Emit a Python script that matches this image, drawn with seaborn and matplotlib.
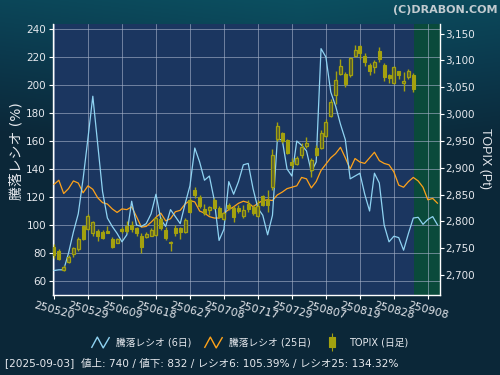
import numpy as np
import pandas as pd
import matplotlib
matplotlib.use("Agg")
import matplotlib.pyplot as plt
from matplotlib.path import Path
from matplotlib.lines import Line2D
from matplotlib.colors import LinearSegmentedColormap
import seaborn as sns

# x axis (trading-day index) tick labels
tick_idx = [0, 7, 14, 21, 28, 35, 42, 49, 56, 63, 70, 77]
tick_labels = ["250520", "250529", "250609", "250618", "250627", "250708",
               "250717", "250729", "250807", "250819", "250828", "250908"]

# 騰落レシオ (6日)
ratio6 = [67.5, 68, 68, 80, 95, 108, 133, 162, 192, 158,
          124, 105, 99, 94, 88, 93, 117, 100, 99, 101,
          108, 122, 104, 99, 111, 106, 101, 115, 128, 155,
          145, 132, 135, 118, 89, 97, 131, 122, 131, 143,
          144, 126, 112, 107, 93, 107, 161, 161, 140, 135,
          160, 157, 153, 138, 145, 226, 220, 195, 185, 172,
          161, 133, 135, 137, 122, 110, 137, 130, 100, 88,
          92, 91, 82, 94, 105, 105.5, 100.5, 104, 106, 100]

# 騰落レシオ (25日)
ratio25 = [129, 132, 122.5, 126, 131.5, 130, 123, 128, 125.5, 119.5,
           116, 115, 111.5, 109, 111.5, 111, 113, 106, 98.5, 99,
           102, 105.5, 108.5, 103, 104.5, 109.5, 110.5, 115, 117.5, 116.5,
           110, 108.5, 106, 105, 105, 108.5, 111, 113, 115.5, 117,
           116, 113, 115.5, 117.5, 118, 117.5, 121.5, 123.5, 126, 127,
           128, 134, 133, 126.5, 131, 139, 143.5, 148, 151, 155.5,
           148, 140, 147.5, 145, 144, 148, 152, 146, 144, 143,
           138, 128.5, 127, 131, 134, 131.5, 127, 118, 119, 115.5]

# TOPIX daily candles
topix_open = [2753, 2745, 2709, 2725, 2739, 2748, 2791, 2786, 2778, 2782,
              2781, 2782, 2767, 2760, 2785, 2791, 2793, 2787, 2773, 2770,
              2773, 2775, 2804, 2784, 2762, 2787, 2787, 2781, 2840, 2859,
              2846, 2823, 2821, 2840, 2825, 2804, 2831, 2825, 2825, 2810,
              2833, 2826, 2810, 2847, 2840, 2864, 2953, 2964, 2952, 2911,
              2907, 2924, 2941, 2896, 2937, 2937, 2960, 2997, 3035, 3075,
              3075, 3072, 3108, 3127, 3109, 3092, 3088, 3117, 3092, 3072,
              3058, 3080, 3058, 3069, 3072]
topix_high = [2758, 2748, 2719, 2737, 2753, 2771, 2793, 2813, 2800, 2785,
              2784, 2791, 2770, 2769, 2790, 2800, 2800, 2790, 2778, 2781,
              2787, 2808, 2808, 2790, 2763, 2793, 2790, 2806, 2843, 2864,
              2849, 2833, 2828, 2843, 2828, 2818, 2834, 2828, 2831, 2831,
              2840, 2831, 2840, 2849, 2859, 2935, 2986, 2967, 2953, 2918,
              2921, 2946, 2958, 2918, 2943, 2971, 2991, 3028, 3081, 3103,
              3078, 3107, 3128, 3128, 3114, 3095, 3101, 3125, 3095, 3075,
              3089, 3081, 3078, 3084, 3077]
topix_low = [2732, 2728, 2708, 2723, 2734, 2745, 2765, 2784, 2772, 2763,
             2767, 2779, 2750, 2759, 2779, 2778, 2781, 2772, 2741, 2769,
             2772, 2773, 2784, 2765, 2744, 2772, 2767, 2779, 2815, 2843,
             2825, 2812, 2812, 2823, 2806, 2803, 2821, 2798, 2816, 2806,
             2818, 2812, 2809, 2828, 2818, 2859, 2949, 2946, 2926, 2899,
             2905, 2918, 2936, 2883, 2921, 2935, 2958, 2995, 3019, 3072,
             3051, 3070, 3106, 3103, 3089, 3072, 3076, 3097, 3061, 3058,
             3056, 3066, 3043, 3066, 3041]
topix_close = [2737, 2729, 2715, 2734, 2750, 2767, 2767, 2810, 2798, 2773,
               2769, 2779, 2753, 2767, 2782, 2782, 2785, 2778, 2753, 2776,
               2784, 2806, 2788, 2769, 2759, 2778, 2781, 2803, 2818, 2849,
               2829, 2815, 2826, 2825, 2809, 2815, 2825, 2809, 2820, 2821,
               2823, 2816, 2828, 2831, 2831, 2924, 2977, 2949, 2927, 2905,
               2919, 2939, 2947, 2915, 2924, 2965, 2986, 3023, 3063, 3089,
               3056, 3105, 3120, 3114, 3097, 3080, 3098, 3103, 3069, 3067,
               3088, 3072, 3061, 3080, 3047]

status = "[2025-09-03]  値上: 740 / 値下: 832 / レシオ6: 105.39% / レシオ25: 134.32%"

C6 = "#8fd3f2"
C25 = "#ffa31a"
CANDLE = "#a3a10f"
HOLLOW = "#555d33"
TXT = "#e6e9ee"

sns.set_style("dark")
plt.rcParams["font.family"] = ["DejaVu Sans", "Noto Sans CJK JP"]
plt.rcParams["axes.unicode_minus"] = False

lines = pd.DataFrame({"idx": np.arange(len(ratio6)), "r6": ratio6, "r25": ratio25})
candles = pd.DataFrame({"idx": np.arange(len(topix_open)), "o": topix_open,
                        "h": topix_high, "l": topix_low, "c": topix_close})
candles["up"] = candles["c"] >= candles["o"]
candles["bot"] = candles[["o", "c"]].min(axis=1)
candles["hgt"] = (candles["c"] - candles["o"]).abs().clip(lower=2)

fig = plt.figure(figsize=(5, 3.75), dpi=100)

# background gradient
ny, nx = 375, 500
yy = np.linspace(0, 1, ny)[:, None]
xx = np.linspace(0, 1, nx)[None, :]
t = np.clip(yy * 2.2 + 0.35 * np.abs(xx - 0.6), 0, 1)
cmap = LinearSegmentedColormap.from_list("bg", ["#0b4f60", "#0c3a4e", "#0b2738"])
fig.figimage(cmap(t)[:, :, :3], xo=0, yo=0, origin="upper", zorder=-5)

ax = fig.add_axes([0.106, 0.2133, 0.774, 0.7227])
ax.set_facecolor("#1b3660")
ax.set_xlim(-0.2, 79.5)
ax.set_ylim(50, 243.6)
ax.axvspan(74.2, 79.5, color="#0a4a3b", zorder=0, lw=0)

sns.lineplot(data=lines, x="idx", y="r25", ax=ax, color=C25, lw=0.9, zorder=3)
sns.lineplot(data=lines, x="idx", y="r6", ax=ax, color=C6, lw=0.9, zorder=3)

ax2 = ax.twinx()
ax2.set_ylim(2662.7, 3168)
ax2.vlines(candles["idx"], candles["l"], candles["h"], color=CANDLE, lw=1.0, zorder=2)
up = candles[candles["up"]]
dn = candles[~candles["up"]]
ax2.bar(dn["idx"], dn["hgt"], bottom=dn["bot"], width=0.62, color=CANDLE,
        edgecolor=CANDLE, lw=0.8, zorder=3)
ax2.bar(up["idx"], up["hgt"], bottom=up["bot"], width=0.62, color=HOLLOW,
        edgecolor=CANDLE, lw=0.9, zorder=3)

ax.set_xticks(tick_idx)
ax.set_xticklabels(tick_labels, rotation=-15, ha="center", va="top")
ax.set_yticks(np.arange(60, 241, 20))
ax2.set_yticks(np.arange(2700, 3151, 50))
ax2.set_yticklabels([f"{v:,}" for v in range(2700, 3151, 50)])

ax.grid(True, color="#a8b4cc", lw=0.7, alpha=0.6)
ax.set_axisbelow(True)
ax2.grid(False)
ax.set_xlabel("")
ax.set_ylabel("")

for s in ["top", "right"]:
    ax.spines[s].set_visible(False)
for s in ["left", "bottom"]:
    ax.spines[s].set_color("white")
    ax.spines[s].set_linewidth(1.0)
for s in ["top", "left", "bottom"]:
    ax2.spines[s].set_visible(False)
ax2.spines["right"].set_color("white")
ax2.spines["right"].set_linewidth(1.0)

ax.tick_params(axis="both", colors="white", labelcolor=TXT, length=3, width=0.8,
               labelsize=7.5, pad=2, left=True, bottom=True)
ax.tick_params(axis="x", labelsize=7.8, pad=1)
ax2.tick_params(axis="y", colors="white", labelcolor=TXT, length=3, width=0.8,
                labelsize=7.5, pad=1, right=True)

fig.text(0.034, 0.597, "騰落レシオ (%)", rotation=90, ha="center", va="center",
         color=TXT, fontsize=10)
fig.text(0.970, 0.578, "TOPIX (Pt)", rotation=270, ha="center", va="center",
         color=TXT, fontsize=9, family=["Liberation Sans", "DejaVu Sans"])
fig.text(0.994, 0.986, "(C)DRABON.COM", ha="right", va="top", color="#c2cbd0",
         fontsize=8, fontweight="bold")
fig.text(0.01, 0.032, status, ha="left", va="center", color=TXT, fontsize=7.6)

zig = Path([(-1, -0.6), (-0.35, 0.6), (0.3, -0.6), (1, 0.6)],
           [Path.MOVETO, Path.LINETO, Path.LINETO, Path.LINETO])
cndl = Path([(-0.35, -0.5), (0.35, -0.5), (0.35, 0.5), (-0.35, 0.5), (-0.35, -0.5),
             (0, 0.5), (0, 1), (0, -0.5), (0, -1)],
            [Path.MOVETO, Path.LINETO, Path.LINETO, Path.LINETO, Path.CLOSEPOLY,
             Path.MOVETO, Path.LINETO, Path.MOVETO, Path.LINETO])
handles = [
    Line2D([], [], ls="none", marker=zig, markersize=13, markerfacecolor="none",
           markeredgecolor=C6, markeredgewidth=1.0),
    Line2D([], [], ls="none", marker=zig, markersize=13, markerfacecolor="none",
           markeredgecolor=C25, markeredgewidth=1.0),
    Line2D([], [], ls="none", marker=cndl, markersize=13, markerfacecolor=CANDLE,
           markeredgecolor=CANDLE, markeredgewidth=0.8),
]
fig.legend(handles, ["騰落レシオ (6日)", "騰落レシオ (25日)", "TOPIX (日足)"],
           loc="center", bbox_to_anchor=(0.5, 0.087), ncol=3, frameon=False,
           fontsize=7, labelcolor=TXT, handlelength=1.6, handletextpad=0.9,
           columnspacing=1.4)

fig.savefig("out.png", dpi=100)
